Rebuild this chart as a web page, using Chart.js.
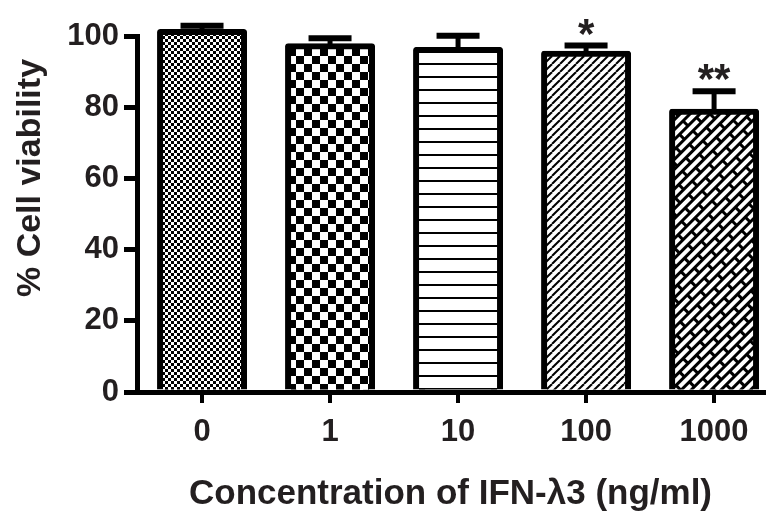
<!DOCTYPE html>
<html>
<head>
<meta charset="utf-8">
<script src="https://cdn.jsdelivr.net/npm/chart.js@4.4.1/dist/chart.umd.min.js"></script>
<style>
    html, body { margin: 0; padding: 0; background: #fff; }
    #wrap { width: 766px; height: 516px; }
</style>
</head>
<body>
<div id="wrap"><canvas id="viabilityChart" width="766" height="516"></canvas></div>
<script>
// values
const doses = ['0', '1', '10', '100', '1000'];
const viability = [101.1, 97.1, 96.1, 95.0, 78.7];
const errUp = [1.8, 2.3, 4.0, 2.3, 5.8];
const stars = ['', '', '', '*', '**'];

const INK = '#231f20';
const FONT = "'Liberation Sans', Arial, sans-serif";

// hatch fills, one per bar
function makePattern(kind) {
    const c = document.createElement('canvas');
    const g = c.getContext('2d');
    let m = null;
    if (kind === 'fine' || kind === 'coarse') {
        const s = kind === 'fine' ? 3 : 8;
        c.width = c.height = s * 2;
        g.fillStyle = '#fff'; g.fillRect(0, 0, s * 2, s * 2);
        g.fillStyle = '#000'; g.fillRect(0, 0, s, s); g.fillRect(s, s, s, s);
    } else if (kind === 'hlines') {
        c.width = 4; c.height = 13;
        g.fillStyle = '#fff'; g.fillRect(0, 0, 4, 13);
        g.fillStyle = '#000'; g.fillRect(0, 11, 4, 2);
    } else if (kind === 'diag') {
        c.width = c.height = 8;
        g.fillStyle = '#fff'; g.fillRect(0, 0, 8, 8);
        g.strokeStyle = '#000'; g.lineWidth = 2;
        [-8, 0, 8].forEach(k => { g.beginPath(); g.moveTo(k, 8); g.lineTo(k + 8, 0); g.stroke(); });
    } else {
        // brick weave, turned 45deg
        c.width = 24; c.height = 14;
        g.fillStyle = '#fff'; g.fillRect(0, 0, 24, 14);
        g.fillStyle = '#000';
        g.fillRect(0, 0, 24, 3); g.fillRect(0, 7, 24, 3);
        g.fillRect(0, 0, 3, 7); g.fillRect(12, 7, 3, 7);
        m = new DOMMatrix().rotate(-45);
    }
    const p = g.createPattern(c, 'repeat');
    if (m) p.setTransform(m);
    return p;
}

const fills = ['fine', 'coarse', 'hlines', 'diag', 'brick'].map(makePattern);

const errorBars = {
    id: 'errorBars',
    afterDatasetsDraw(chart) {
        const { ctx, scales: { y } } = chart;
        const meta = chart.getDatasetMeta(0);
        ctx.save();
        ctx.strokeStyle = '#000';
        meta.data.forEach((bar, i) => {
            const base = y.getPixelForValue(viability[i]);
            const top = y.getPixelForValue(viability[i] + errUp[i]);
            ctx.lineWidth = 5;
            ctx.beginPath(); ctx.moveTo(bar.x, base); ctx.lineTo(bar.x, top); ctx.stroke();
            ctx.lineWidth = 6;
            ctx.beginPath(); ctx.moveTo(bar.x - 21.5, top); ctx.lineTo(bar.x + 21.5, top); ctx.stroke();
            if (stars[i]) {
                ctx.fillStyle = INK;
                ctx.font = `bold 42px ${FONT}`;
                ctx.textAlign = 'center';
                ctx.textBaseline = 'alphabetic';
                ctx.fillText(stars[i], bar.x, top - 21 + 23);
            }
        });
        ctx.restore();
    }
};

const yTitle = {
    id: 'yTitle',
    afterDraw(chart) {
        const ctx = chart.ctx;
        ctx.save();
        ctx.translate(31, 178);
        ctx.rotate(-Math.PI / 2);
        ctx.fillStyle = INK;
        ctx.font = `bold 34px ${FONT}`;
        ctx.textAlign = 'center';
        ctx.textBaseline = 'middle';
        ctx.fillText('% Cell viability', 0, 0);
        ctx.restore();
    }
};

new Chart(document.getElementById('viabilityChart'), {
    type: 'bar',
    data: {
        datasets: [{
            data: doses.map((d, i) => ({ x: i, y: viability[i] })),
            backgroundColor: fills,
            borderColor: '#000',
            borderWidth: 6,
            borderRadius: 3,
            inflateAmount: 3,
            barPercentage: 0.656,
            categoryPercentage: 1,
            clip: false
        }]
    },
    options: {
        responsive: false,
        devicePixelRatio: 1,
        animation: false,
        layout: { padding: { top: 36, right: 2, bottom: 0, left: 0 } },
        plugins: { legend: { display: false }, tooltip: { enabled: false } },
        scales: {
            x: {
                type: 'linear',
                offset: false,
                min: -0.508,
                max: 4.39,
                afterBuildTicks: s => { s.ticks = doses.map((d, i) => ({ value: i })); },
                afterFit: s => { s.height = 124; },
                grid: { offset: false, drawOnChartArea: false, tickLength: 11, color: '#000', lineWidth: 4 },
                border: { color: '#000', width: 5 },
                ticks: {
                    color: INK, padding: 11, autoSkip: false, maxRotation: 0,
                    font: { family: FONT, size: 31, weight: 'bold' },
                    callback: v => doses[v] ?? ''
                },
                title: {
                    display: true,
                    text: 'Concentration of IFN-λ3 (ng/ml)',
                    color: INK,
                    font: { family: FONT, size: 35, weight: 'bold' },
                    padding: { top: 0, bottom: 1 }
                }
            },
            y: {
                min: 0,
                max: 100,
                afterFit: s => { s.width = 137; },
                grid: { drawOnChartArea: false, tickLength: 13, color: '#000', lineWidth: 5 },
                border: { color: '#000', width: 5 },
                ticks: {
                    stepSize: 20, color: INK, padding: 5,
                    font: { family: FONT, size: 31, weight: 'bold' }
                }
            }
        }
    },
    plugins: [errorBars, yTitle]
});
</script>
</body>
</html>
